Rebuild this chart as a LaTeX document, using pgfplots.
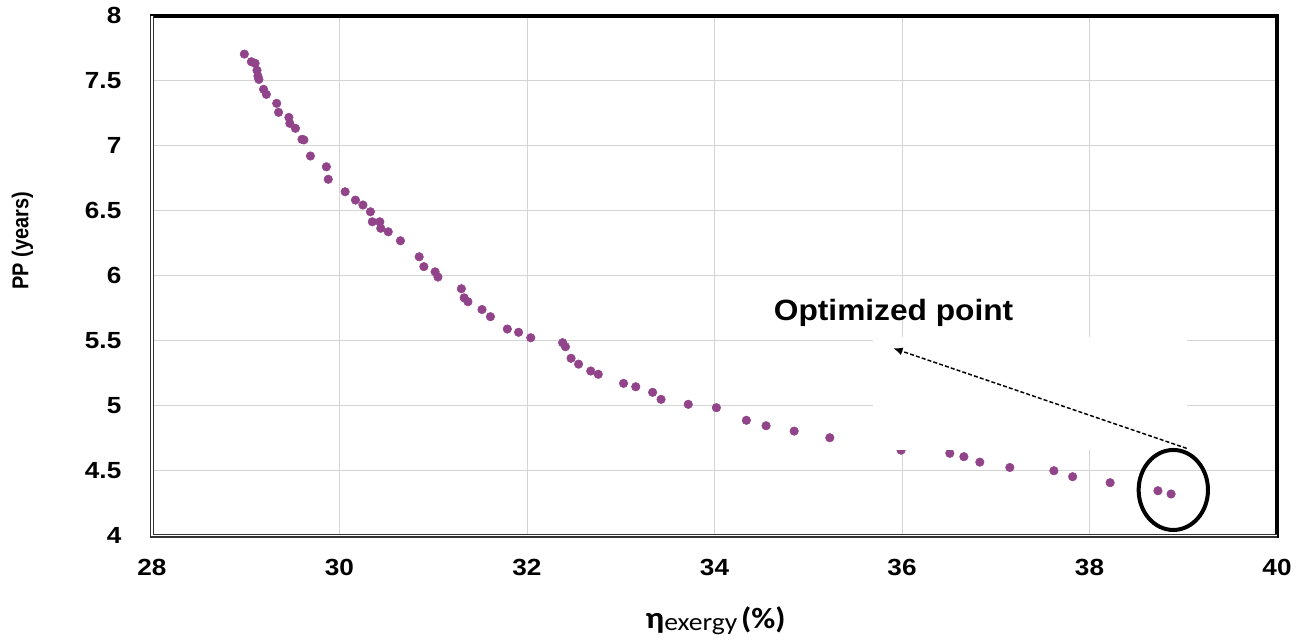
\documentclass[border=0pt]{standalone}
\usepackage{fontspec}
\setmainfont{Liberation Sans}
\newfontfamily\tickfont{Liberation Sans}[FakeStretch=1.12]
\newfontfamily\annfont{Liberation Sans}[FakeStretch=1.08]
\newfontfamily\ylabfont{Liberation Sans}[FakeStretch=0.87]
\newfontfamily\calfont{Carlito}[FakeStretch=1.12]
\usepackage{pgfplots}
\pgfplotsset{compat=1.18}
\usetikzlibrary{arrows.meta}
\definecolor{dotcol}{RGB}{146,68,138}
\definecolor{gridcol}{RGB}{212,212,212}
\begin{document}
\begin{tikzpicture}
\begin{axis}[
  set layers,
  at={(0,0)}, anchor=south west,
  scale only axis, width=843.75pt, height=390pt,
  xmin=28, xmax=40, ymin=4, ymax=8,
  xtick={28,30,32,34,36,38,40},
  ytick={4,4.5,5,5.5,6,6.5,7,7.5,8},
  grid=major,
  major grid style={draw=gridcol, line width=0.75pt},
  axis line style={draw=none},
  tick style={draw=none},
  clip=false,
  /pgf/number format/assume math mode=true,
  ticklabel style={font=\tickfont\bfseries\fontsize{17.5}{20}\selectfont},
  xticklabel style={yshift=-14pt},
  yticklabel style={xshift=-19.5pt},
  xlabel={{\calfont\bfseries\fontsize{23}{24}\selectfont η}{\calfont\fontsize{18.5}{20}\selectfont\raisebox{-1.5pt}{exergy}}\ {\calfont\bfseries\fontsize{22}{24}\selectfont (\%)}},
  ylabel={\ylabfont\bfseries\fontsize{17.2}{20}\selectfont PP (years)},
  every axis x label/.style={at={(axis description cs:0.501,-0.164)}, anchor=center},
  every axis y label/.style={at={(axis description cs:-0.1151,0.567)}, anchor=center, rotate=90},
]
\addplot[only marks, mark=*, mark size=3.2pt, color=dotcol, mark options={draw=dotcol, fill=dotcol}] coordinates {
(28.985,7.705) (29.06,7.646) (29.10,7.634) (29.12,7.58) (29.13,7.536) (29.14,7.51)
(29.19,7.434) (29.22,7.395) (29.33,7.326) (29.35,7.257) (29.46,7.218) (29.47,7.172)
(29.53,7.134) (29.60,7.049) (29.62,7.045) (29.69,6.921) (29.86,6.838) (29.88,6.742)
(30.06,6.646) (30.17,6.582) (30.25,6.544) (30.33,6.492) (30.35,6.415) (30.43,6.415)
(30.44,6.365) (30.52,6.338) (30.65,6.269) (30.85,6.146) (30.90,6.07) (31.02,6.03)
(31.05,5.99) (31.30,5.90) (31.33,5.83) (31.37,5.80) (31.52,5.74) (31.61,5.685)
(31.79,5.59) (31.91,5.565) (32.04,5.523) (32.38,5.485) (32.41,5.454) (32.47,5.365)
(32.55,5.32) (32.68,5.267) (32.76,5.242) (33.03,5.172) (33.16,5.146) (33.34,5.103)
(33.43,5.049) (33.72,5.011) (34.02,4.985) (34.34,4.888) (34.55,4.846) (34.85,4.805)
(35.23,4.754) (35.99,4.658) (36.51,4.634) (36.66,4.608) (36.83,4.566) (37.15,4.525)
(37.62,4.50) (37.82,4.454) (38.22,4.408) (38.73,4.346) (38.87,4.321)
};
\begin{pgfonlayer}{axis foreground}
% white text box of the original that hides part of the grid
\fill[white] (axis cs:35.69,4.663) rectangle (axis cs:39.04,5.53);
% frame
\draw[line width=3.3pt, line cap=rect] (rel axis cs:0,1) -- (rel axis cs:1,1) -- (rel axis cs:1,0);
\draw[draw=black!80, line width=1.1pt, double=white, double distance=1pt] (rel axis cs:0,1) -- (rel axis cs:0,0) -- (rel axis cs:1,0);
% annotation
\draw[line width=1.1pt, dash pattern=on 3pt off 1.6pt, -{Latex[length=7pt,width=6pt]}] (axis cs:39.037,4.672) -- (axis cs:35.907,5.442);
\draw[line width=3pt] (axis cs:38.894,4.352) ellipse [x radius=26pt, y radius=30pt];
\node[anchor=base, inner sep=0pt, font=\annfont\bfseries\fontsize{22}{24}\selectfont] at (axis cs:35.91,5.652) {Optimized point};
\end{pgfonlayer}
\end{axis}
\useasboundingbox (-114pt,-80.5pt) rectangle (869.25pt,401.8pt);
\end{tikzpicture}
\end{document}
